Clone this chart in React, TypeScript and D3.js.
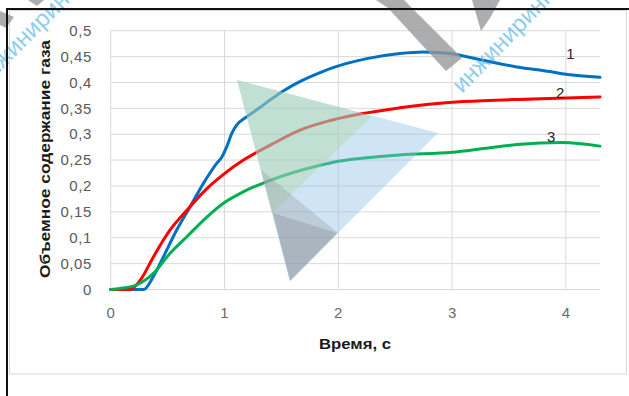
import React from "react";
import * as d3 from "d3";

// Series 1 (blue)
const time1 = [0, 0.29, 0.375, 0.463, 0.58, 0.698, 0.815, 0.933, 0.977, 1.02, 1.065, 1.108, 1.197, 1.314, 1.4, 1.52, 1.666, 1.84, 1.96, 2.25, 2.54, 2.75, 2.98, 3.27, 3.57, 3.86, 4.0, 4.3];
const gas1 = [0, 0, 0.025, 0.063, 0.115, 0.16, 0.205, 0.244, 0.256, 0.276, 0.302, 0.318, 0.334, 0.352, 0.366, 0.384, 0.402, 0.419, 0.429, 0.446, 0.456, 0.459, 0.456, 0.443, 0.43, 0.421, 0.416, 0.41];

// Series 2 (red)
const time2 = [0, 0.17, 0.26, 0.375, 0.522, 0.669, 0.845, 1.0, 1.167, 1.402, 1.664, 1.956, 2.54, 3.1, 3.71, 4.3];
const gas2 = [0, 0, 0.018, 0.063, 0.115, 0.153, 0.195, 0.224, 0.25, 0.279, 0.308, 0.328, 0.351, 0.363, 0.368, 0.372];

// Series 3 (green)
const time3 = [0, 0.08, 0.229, 0.375, 0.522, 0.669, 0.845, 1.0, 1.167, 1.402, 1.664, 1.956, 2.54, 3.0, 3.3, 3.57, 3.97, 4.3];
const gas3 = [0, 0.002, 0.009, 0.031, 0.07, 0.102, 0.14, 0.168, 0.189, 0.211, 0.23, 0.246, 0.26, 0.265, 0.273, 0.28, 0.284, 0.277];

const seriesNames = ["1", "2", "3"];
const seriesColors = ["#0070C0", "#FF0000", "#00B050"];

const yTicks = [0, 0.05, 0.1, 0.15, 0.2, 0.25, 0.3, 0.35, 0.4, 0.45, 0.5];
const xTicks = [0, 1, 2, 3, 4];

const yTitle = "Объемное содержание газа";
const xTitle = "Время, с";
const stampText = "инжиниринг";

const W = 629;
const H = 396;
const plot = { left: 110.7, right: 600, top: 30.7, bottom: 289.5 };

const x = d3.scaleLinear().domain([0, 4.3]).range([plot.left, plot.right]);
const y = d3.scaleLinear().domain([0, 0.5]).range([plot.bottom, plot.top]);

const fmt = (v: number) => String(+v.toFixed(2)).replace(".", ",");

const line = d3
  .line<[number, number]>()
  .x((d) => x(d[0]))
  .y((d) => y(d[1]))
  .curve(d3.curveMonotoneX);

const series = [
  { t: time1, v: gas1 },
  { t: time2, v: gas2 },
  { t: time3, v: gas3 },
];

// label anchor (time, value) for each curve's number
const labelAt: [number, number][] = [
  [4.04, 0.456],
  [3.95, 0.38],
  [3.87, 0.295],
];

const pts = (p: [number, number][]) => p.map((q) => q.join(",")).join(" ");

export default function App() {
  const font = "'Liberation Sans', Arial, sans-serif";
  return (
    <svg
      width={W}
      height={H}
      viewBox={`0 0 ${W} ${H}`}
      style={{ position: "absolute", left: 0, top: 0, background: "#fff" }}
    >
      <rect x={0} y={0} width={W} height={H} fill="#fff" />
      {/* chart area border */}
      <rect x={9.5} y={10.5} width={617} height={363.5} fill="none" stroke="#d9d9d9" strokeWidth={1} />

      {/* grid */}
      {yTicks.map((t) => (
        <line key={"gy" + t} x1={plot.left} x2={plot.right} y1={y(t)} y2={y(t)} stroke="#d9d9d9" strokeWidth={1} />
      ))}
      {xTicks.map((t) => (
        <line key={"gx" + t} x1={x(t)} x2={x(t)} y1={plot.top} y2={plot.bottom} stroke="#d9d9d9" strokeWidth={1} />
      ))}

      {/* tick labels */}
      {yTicks.map((t) => (
        <text
          key={"ly" + t}
          x={92}
          y={y(t)}
          dy="0.35em"
          textAnchor="end"
          fontFamily={font}
          fontSize={15}
          letterSpacing={0.6}
          fill="#595959"
        >
          {fmt(t)}
        </text>
      ))}
      {xTicks.map((t) => (
        <text
          key={"lx" + t}
          x={x(t)}
          y={313}
          dy="0.35em"
          textAnchor="middle"
          fontFamily={font}
          fontSize={15}
          fill="#6b6b6b"
        >
          {fmt(t)}
        </text>
      ))}

      {/* axis titles */}
      <text
        transform={`translate(49.5,159) rotate(-90)`}
        textAnchor="middle"
        fontFamily={font}
        fontWeight="bold"
        fontSize={15.5}
        fill="#1a1a1a"
        textLength={238}
        lengthAdjust="spacingAndGlyphs"
      >
        {yTitle}
      </text>
      <text
        x={355}
        y={344}
        dy="0.35em"
        textAnchor="middle"
        fontFamily={font}
        fontWeight="bold"
        fontSize={15}
        fill="#1a1a1a"
        textLength={72}
        lengthAdjust="spacingAndGlyphs"
      >
        {xTitle}
      </text>

      {/* curves */}
      {series.map((s, i) => (
        <path
          key={"s" + i}
          d={line(s.t.map((t, j) => [t, s.v[j]] as [number, number])) || ""}
          fill="none"
          stroke={seriesColors[i]}
          strokeWidth={3}
          strokeLinejoin="round"
          strokeLinecap="round"
        />
      ))}
      {seriesNames.map((n, i) => (
        <text
          key={"n" + n}
          x={x(labelAt[i][0])}
          y={y(labelAt[i][1])}
          dy="0.35em"
          textAnchor="middle"
          fontFamily={font}
          fontSize={15}
          fill="#262626"
        >
          {n}
        </text>
      ))}

      {/* stamp: triangle emblem */}
      <g>
        <polygon points={pts([[237, 80], [438, 133], [290, 281]])} fill="rgb(140,190,232)" fillOpacity={0.42} />
        <polygon points={pts([[237, 80], [372, 116], [272, 213]])} fill="rgb(170,215,150)" fillOpacity={0.35} />
        <polygon points={pts([[261, 170], [338, 233], [290, 281]])} fill="rgb(130,130,135)" fillOpacity={0.25} />
        <polygon points={pts([[273, 213], [337, 233], [290, 281]])} fill="rgb(130,130,135)" fillOpacity={0.3} />
      </g>

      {/* stamp: grey bars and lettering */}
      <g fill="rgb(150,152,155)" fillOpacity={0.8}>
        <polygon points={pts([[376, 0], [404, 0], [462, 58], [446, 71], [388, 8]])} />
        <polygon points={pts([[472, 0], [500, 0], [490, 18], [481, 31]])} />
        <polygon points={pts([[0, 11], [14, 17], [6, 28], [0, 25]])} />
        <polygon points={pts([[28, 0], [44, 0], [37, 6]])} />
      </g>
      <g fontFamily={font} fontSize={24} fill="#5ab8ea" fillOpacity={0.7}>
        <text transform="translate(-16,88) rotate(-45)">{stampText}</text>
        <text transform="translate(462,94) rotate(-46)">{stampText}</text>
      </g>

      {/* outer frame */}
      <line x1={7} x2={7} y1={9} y2={H} stroke="#111" strokeWidth={2} />
      <line x1={6} x2={W} y1={9} y2={9} stroke="#111" strokeWidth={2} />
    </svg>
  );
}
